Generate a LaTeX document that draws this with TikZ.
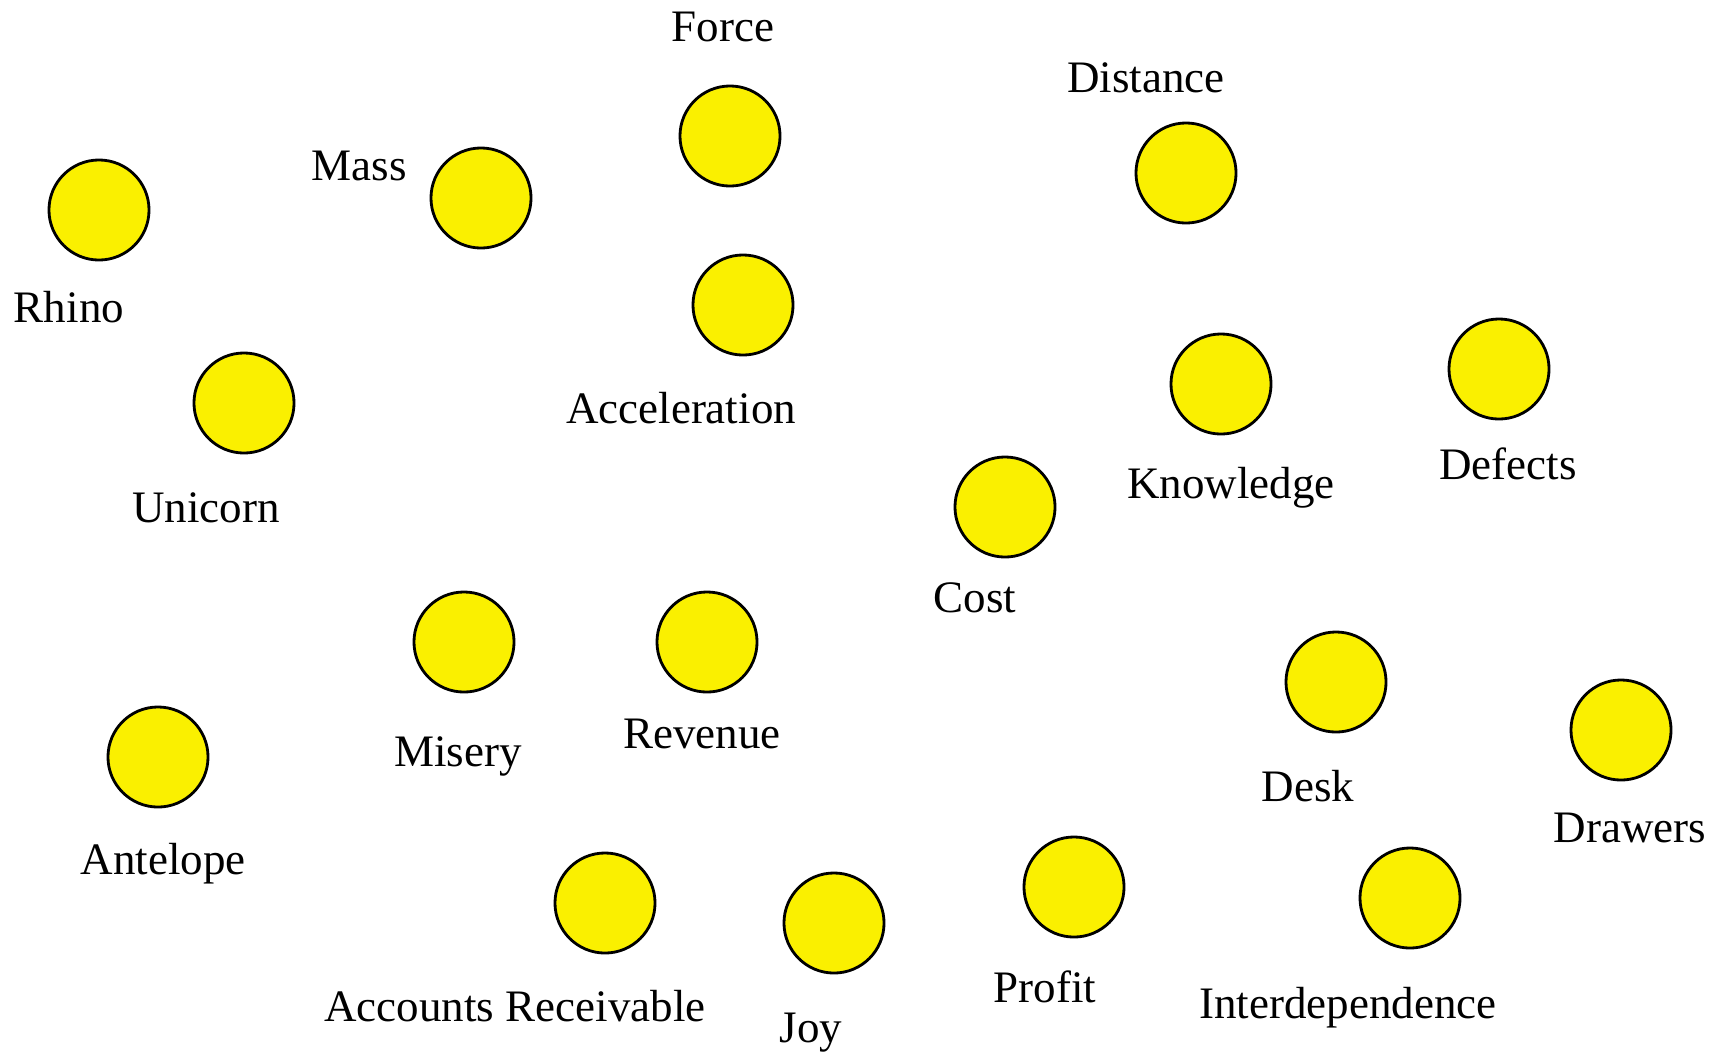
\documentclass[tikz,border=0pt]{standalone}
\usepackage{fontspec}
\setmainfont{Liberation Serif}
\usepackage{xcolor}
\definecolor{ballyellow}{RGB}{250,240,0}

\begin{document}
\begin{tikzpicture}[x=0.01cm, y=-0.01cm,
    ball/.style={circle, draw=black, line width=0.8pt, fill=ballyellow,
                 minimum size=1cm, inner sep=0pt},
    word/.style={anchor=base, inner sep=0pt, font=\fontsize{12.8}{15}\selectfont}]

\useasboundingbox (0,0) rectangle (1725,1054);

% Circles
\node (rhino)    [ball] at (99,210)   {};
\node (mass)     [ball] at (481,198)  {};
\node (force)    [ball] at (730,136)  {};
\node (accel)    [ball] at (743,305)  {};
\node (distance) [ball] at (1186,173) {};
\node (unicorn)  [ball] at (244,403)  {};
\node (know)     [ball] at (1221,384) {};
\node (defects)  [ball] at (1499,369) {};
\node (cost)     [ball] at (1005,507) {};
\node (misery)   [ball] at (464,642)  {};
\node (revenue)  [ball] at (707,642)  {};
\node (antelope) [ball] at (158,757)  {};
\node (desk)     [ball] at (1336,682) {};
\node (drawers)  [ball] at (1621,730) {};
\node (ar)       [ball] at (605,903)  {};
\node (joy)      [ball] at (834,923)  {};
\node (profit)   [ball] at (1074,887) {};
\node (interdep) [ball] at (1410,898) {};

% Labels
\node (rhino txt)    [word] at (69,322)    {Rhino};
\node (mass txt)     [word] at (359,180)   {Mass};
\node (force txt)    [word] at (723,41)    {Force};
\node (accel txt)    [word] at (681,423)   {Acceleration};
\node (distance txt) [word] at (1146,92)   {Distance};
\node (unicorn txt)  [word] at (206,522)   {Unicorn};
\node (know txt)     [word] at (1231,498)  {Knowledge};
\node (defects txt)  [word] at (1508,479)  {Defects};
\node (cost txt)     [word] at (975,612)   {Cost};
\node (misery txt)   [word] at (458,766)   {Misery};
\node (revenue txt)  [word] at (702,748)   {Revenue};
\node (antelope txt) [word] at (163,874)   {Antelope};
\node (desk txt)     [word] at (1308,801)  {Desk};
\node (drawers txt)  [word] at (1630,842)  {Drawers};
\node (ar txt)       [word] at (515,1021)  {Accounts Receivable};
\node (joy txt)      [word] at (811,1042)  {Joy};
\node (profit txt)   [word] at (1045,1002) {Profit};
\node (interdep txt) [word] at (1348,1018) {Interdependence};

\end{tikzpicture}
\end{document}
